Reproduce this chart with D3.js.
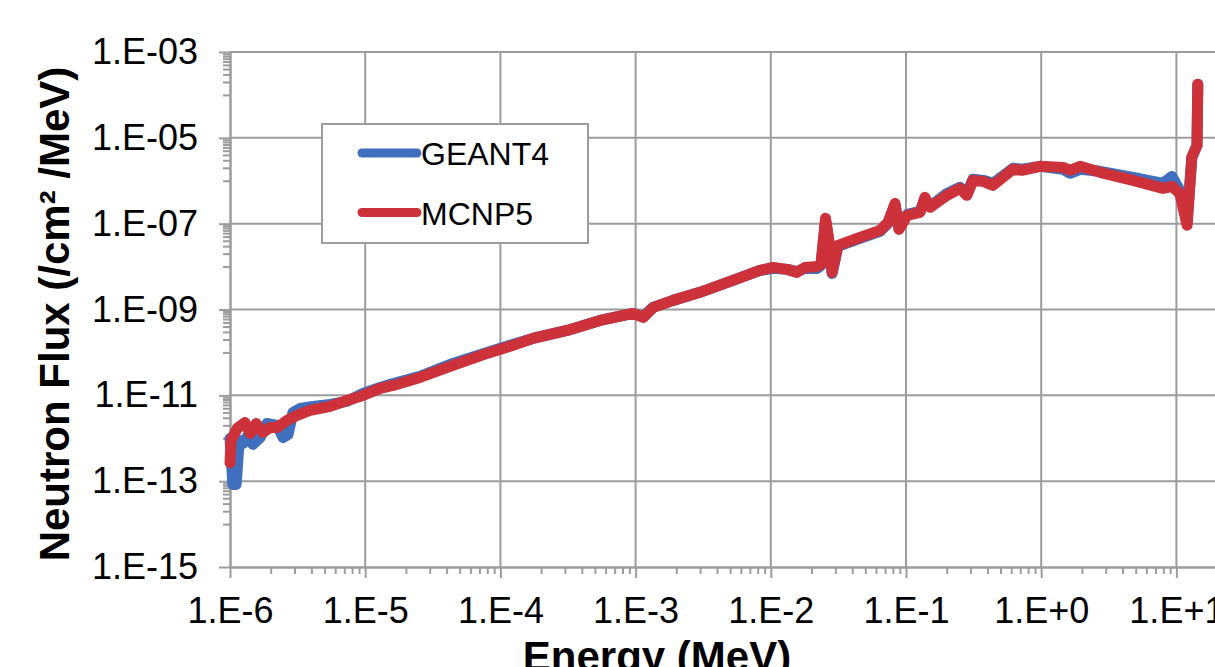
<!DOCTYPE html>
<html>
<head>
<meta charset="utf-8">
<script src="https://cdn.jsdelivr.net/npm/d3@7"></script>
<style>
  body { margin: 0; background: #fff; }
  svg { display: block; font-family: "Liberation Sans", Arial, sans-serif; }
</style>
</head>
<body>
<script>
// values (energy in MeV, flux in /cm2/MeV)
const energyMCNP = [1.0e-6, 1.017e-6, 1.13e-6, 1.29e-6, 1.41e-6, 1.56e-6, 1.75e-6, 1.98e-6, 2.23e-6, 2.64e-6,
  3.13e-6, 3.91e-6, 5.50e-6, 7.33e-6, 9.63e-6, 1.29e-5, 1.61e-5, 2.54e-5, 4.46e-5, 7.96e-5,
  1.24e-4, 1.74e-4, 3.11e-4, 5.46e-4, 9.57e-4, 1.14e-3, 1.35e-3, 1.89e-3, 2.99e-3, 5.25e-3,
  8.32e-3, 1.04e-2, 1.32e-2, 1.56e-2, 1.79e-2, 2.20e-2, 2.35e-2, 2.54e-2, 2.69e-2, 2.84e-2,
  3.14e-2, 4.57e-2, 6.43e-2, 7.36e-2, 8.30e-2, 8.87e-2, 0.102, 0.127, 0.138, 0.151,
  0.201, 0.251, 0.282, 0.313, 0.372, 0.440, 0.618, 0.721, 0.980, 1.45,
  1.63, 1.94, 2.72, 4.78, 7.96, 9.27, 10.6, 12.0, 13.0, 14.2, 14.4]
const fluxMCNP = [2.7e-13, 8.9e-13, 1.69e-12, 2.33e-12, 1.29e-12, 2.21e-12, 1.36e-12, 1.79e-12, 1.79e-12, 2.60e-12,
  3.40e-12, 4.45e-12, 5.51e-12, 7.60e-12, 9.95e-12, 1.45e-11, 1.70e-11, 2.61e-11, 4.98e-11, 9.48e-11,
  1.46e-10, 2.12e-10, 3.26e-10, 5.57e-10, 8.11e-10, 6.55e-10, 1.12e-9, 1.63e-9, 2.51e-9, 4.77e-9,
  8.15e-9, 9.57e-9, 8.61e-9, 7.33e-9, 9.57e-9, 1.01e-8, 1.12e-8, 1.33e-7, 4.08e-8, 7.33e-9,
  3.12e-8, 4.80e-8, 6.98e-8, 1.07e-7, 2.97e-7, 7.36e-8, 1.56e-7, 1.83e-7, 4.10e-7, 2.40e-7,
  4.57e-7, 6.65e-7, 4.57e-7, 1.02e-6, 9.68e-7, 7.82e-7, 1.85e-6, 1.75e-6, 2.17e-6, 2.05e-6,
  1.75e-6, 2.17e-6, 1.57e-6, 1.02e-6, 6.65e-7, 7.41e-7, 5.08e-7, 9.22e-8, 3.51e-6, 6.68e-6, 1.77e-4]

const energyGEANT = [1.0e-6, 1.05e-6, 1.11e-6, 1.17e-6, 1.25e-6, 1.34e-6, 1.48e-6, 1.67e-6, 1.88e-6, 2.23e-6,
  2.47e-6, 2.69e-6, 2.92e-6, 3.30e-6, 4.11e-6, 5.50e-6, 7.33e-6, 9.63e-6, 1.29e-5, 1.61e-5,
  2.54e-5, 4.46e-5, 7.96e-5, 1.24e-4, 1.74e-4, 3.11e-4, 5.46e-4, 9.57e-4, 1.14e-3, 1.35e-3,
  1.89e-3, 2.99e-3, 5.25e-3, 8.32e-3, 1.04e-2, 1.32e-2, 1.56e-2, 1.79e-2, 2.20e-2, 2.35e-2,
  2.54e-2, 2.69e-2, 2.84e-2, 3.14e-2, 4.57e-2, 6.43e-2, 7.36e-2, 8.30e-2, 8.87e-2, 0.102,
  0.127, 0.138, 0.151, 0.201, 0.251, 0.282, 0.313, 0.372, 0.440, 0.618,
  0.721, 0.980, 1.45, 1.63, 1.94, 2.72, 4.78, 7.96, 9.27, 10.6, 12.0, 13.0, 14.2, 14.4]
const fluxGEANT = [9.9e-13, 8.4e-14, 8.4e-14, 8.9e-13, 7.6e-13, 1.10e-12, 7.2e-13, 1.04e-12, 2.21e-12, 1.99e-12,
  1.04e-12, 1.23e-12, 3.99e-12, 4.95e-12, 5.51e-12, 6.14e-12, 7.21e-12, 1.11e-11, 1.53e-11, 1.89e-11,
  2.76e-11, 5.55e-11, 1.00e-10, 1.54e-10, 2.12e-10, 3.26e-10, 5.57e-10, 8.11e-10, 6.90e-10, 1.12e-9,
  1.63e-9, 2.51e-9, 4.77e-9, 8.15e-9, 9.08e-9, 8.61e-9, 7.73e-9, 9.08e-9, 9.08e-9, 1.07e-8,
  1.19e-7, 3.67e-8, 6.94e-9, 2.96e-8, 4.55e-8, 6.62e-8, 1.02e-7, 2.67e-7, 7.78e-8, 1.64e-7,
  1.93e-7, 3.68e-7, 2.53e-7, 5.08e-7, 7.02e-7, 5.08e-7, 1.08e-6, 1.02e-6, 8.7e-7, 1.95e-6,
  1.85e-6, 2.17e-6, 1.85e-6, 1.49e-6, 1.85e-6, 1.66e-6, 1.20e-6, 8.7e-7, 1.26e-6, 5.97e-7, 1.07e-7, 3.51e-6, 6.68e-6, 1.77e-4]

const seriesNames = ['GEANT4', 'MCNP5']
const xTickValues = [1e-6, 1e-5, 1e-4, 1e-3, 1e-2, 1e-1, 1e0, 1e1]
const xTickLabels = ['1.E-6', '1.E-5', '1.E-4', '1.E-3', '1.E-2', '1.E-1', '1.E+0', '1.E+1']
const yTickValues = [1e-15, 1e-13, 1e-11, 1e-9, 1e-7, 1e-5, 1e-3]
const yTickLabels = ['1.E-15', '1.E-13', '1.E-11', '1.E-09', '1.E-07', '1.E-05', '1.E-03']

const w = 1215
const h = 667
const gridColor = '#9c9c9c'
const colors = { GEANT4: '#3f6fbd', MCNP5: '#cd3139' }

const svg = d3.select('body').append('svg')
    .attr('width', w)
    .attr('height', h)

const xScale = d3.scaleLog()
    .domain([1e-6, 1e2])
    .range([230, 230 + 8 * 135.2])

const yScale = d3.scaleLog()
    .domain([1e-15, 1e-3])
    .range([567, 52])

// gridlines
svg.append('g').selectAll('line')
    .data(xTickValues.slice(1))
    .enter().append('line')
    .attr('x1', d => xScale(d)).attr('x2', d => xScale(d))
    .attr('y1', yScale(1e-15)).attr('y2', yScale(1e-3))
    .attr('stroke', gridColor).attr('stroke-width', 2)

svg.append('g').selectAll('line')
    .data(yTickValues.slice(1))
    .enter().append('line')
    .attr('x1', xScale(1e-6)).attr('x2', w)
    .attr('y1', d => yScale(d)).attr('y2', d => yScale(d))
    .attr('stroke', gridColor).attr('stroke-width', 2)

// minor ticks
const xMinor = []
for (let p = -6; p < 2; p++) for (let k = 2; k < 10; k++) xMinor.push(k * Math.pow(10, p))
const yMinor = []
for (let p = -14; p <= -4; p += 2) for (let k = 1; k < 10; k++) yMinor.push(k * Math.pow(10, p))

const styleAxis = g => {
    g.select('.domain').attr('stroke', gridColor).attr('stroke-width', 2)
    g.selectAll('.tick line').attr('stroke', gridColor).attr('stroke-width', 2)
    g.selectAll('.tick text')
        .attr('fill', '#000')
        .style('font-size', '36px')
        .style('font-family', '"Liberation Sans", Arial, sans-serif')
}

svg.append('g')
    .attr('transform', `translate(0, ${yScale(1e-15)})`)
    .call(d3.axisBottom(xScale).tickValues(xMinor).tickSize(7).tickFormat('').tickSizeOuter(0))
    .call(styleAxis)

svg.append('g')
    .attr('transform', `translate(0, ${yScale(1e-15)})`)
    .call(d3.axisBottom(xScale).tickValues(xTickValues).tickSize(11).tickPadding(19)
        .tickFormat((d, i) => xTickLabels[i]).tickSizeOuter(0))
    .call(styleAxis)

svg.append('g')
    .attr('transform', `translate(${xScale(1e-6)}, 0)`)
    .call(d3.axisLeft(yScale).tickValues(yMinor).tickSize(7).tickFormat('').tickSizeOuter(0))
    .call(styleAxis)

svg.append('g')
    .attr('transform', `translate(${xScale(1e-6)}, 0)`)
    .call(d3.axisLeft(yScale).tickValues(yTickValues).tickSize(11).tickPadding(21)
        .tickFormat((d, i) => yTickLabels[i]).tickSizeOuter(0))
    .call(styleAxis)

// series
const line = d3.line()
    .x(d => xScale(d[0]))
    .y(d => yScale(d[1]))

const drawSeries = (name, energy, flux) => {
    svg.append('path')
        .datum(energy.map((e, i) => [e, flux[i]]))
        .attr('d', line)
        .attr('fill', 'none')
        .attr('stroke', colors[name])
        .attr('stroke-width', 11)
        .attr('stroke-linejoin', 'round')
        .attr('stroke-linecap', 'round')
}
drawSeries('GEANT4', energyGEANT, fluxGEANT)
drawSeries('MCNP5', energyMCNP, fluxMCNP)

// legend
const legend = svg.append('g').attr('transform', 'translate(322, 124)')
legend.append('rect')
    .attr('width', 266).attr('height', 119)
    .attr('fill', '#fff').attr('stroke', gridColor).attr('stroke-width', 2)
seriesNames.forEach((name, i) => {
    const y = 29 + i * 59.5
    legend.append('line')
        .attr('x1', 40).attr('x2', 95).attr('y1', y).attr('y2', y)
        .attr('stroke', colors[name]).attr('stroke-width', 9).attr('stroke-linecap', 'round')
    legend.append('text')
        .attr('x', 99).attr('y', y + 12)
        .style('font-size', '32px')
        .text(name)
})

// axis titles
svg.append('text')
    .attr('text-anchor', 'middle')
    .attr('transform', 'translate(69, 314) rotate(-90)')
    .style('font-size', '42px').style('font-weight', 'bold')
    .text('Neutron Flux (/cm² /MeV)')

svg.append('text')
    .attr('text-anchor', 'middle')
    .attr('x', 657).attr('y', 671)
    .style('font-size', '42px').style('font-weight', 'bold')
    .text('Energy (MeV)')
</script>
</body>
</html>
